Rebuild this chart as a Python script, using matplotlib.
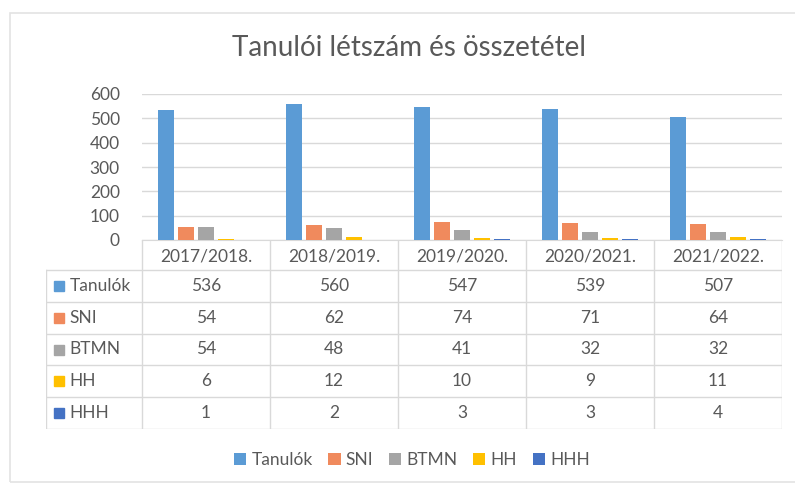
import matplotlib
matplotlib.use("Agg")
import matplotlib.pyplot as plt
from matplotlib.patches import Rectangle
import numpy as np

plt.rcParams['font.family'] = ['Lato', 'DejaVu Sans']

title = "Tanulói létszám és összetétel"
categories = ["2017/2018.", "2018/2019.", "2019/2020.", "2020/2021.", "2021/2022."]
series_names = ["Tanulók", "SNI", "BTMN", "HH", "HHH"]
tanulok = [536, 560, 547, 539, 507]
sni = [54, 62, 74, 71, 64]
btmn = [54, 48, 41, 32, 32]
hh = [6, 12, 10, 9, 11]
hhh = [1, 2, 3, 3, 4]
series_values = [tanulok, sni, btmn, hh, hhh]
colors = ["#5B9BD5", "#F08A5D", "#A5A5A5", "#FFC000", "#4472C4"]
yticks = [0, 100, 200, 300, 400, 500, 600]

W, H = 795, 484
fig = plt.figure(figsize=(W / 100, H / 100), dpi=100)
TXT = "#595959"
GRID = "#D9D9D9"

def fx(px):
    return px / W

def fy(py):
    return 1 - py / H

# outer chart frame
fig.patches.append(Rectangle((fx(10), fy(482)), fx(800) - fx(10), fy(13) - fy(482),
                             transform=fig.transFigure, fill=False, edgecolor="#E3E3E3",
                             linewidth=1.2, zorder=0))

fig.text(fx(409), fy(48), title, ha="center", va="center", fontsize=20, color=TXT)

# bar axes
x0, x1 = 142, 782
ax = fig.add_axes([fx(x0), fy(240), fx(x1) - fx(x0), fy(94) - fy(240)])
n = len(series_names)
x = np.arange(len(categories))
bw = 0.125
gap = 0.156
handles = []
for i, (name, vals, c) in enumerate(zip(series_names, series_values, colors)):
    b = ax.bar(x + (i - (n - 1) / 2) * gap, vals, width=bw, color=c, label=name, zorder=3)
    handles.append(b)
ax.set_xlim(-0.5, len(categories) - 0.5)
ax.set_ylim(0, 600)
ax.set_yticks(yticks)
ax.set_yticklabels([str(v) for v in yticks], fontsize=12.5, color=TXT)
ax.set_xticks([])
ax.tick_params(axis="y", length=0, pad=16)
ax.grid(axis="y", color=GRID, linewidth=1, zorder=0)
for s in ["top", "right", "left"]:
    ax.spines[s].set_visible(False)
ax.spines["bottom"].set_color(GRID)
ax.set_facecolor("none")

# data table axes
tax = fig.add_axes([fx(46), fy(429), fx(782) - fx(46), fy(240) - fy(429)])
lab_w = 0.75
tax.set_xlim(-0.5 - lab_w, len(categories) - 0.5)
tax.set_ylim(189, 0)
tax.axis("off")
header_h = 30
row_h = (189 - header_h) / n
lk = dict(color=GRID, linewidth=1)
# horizontal lines
for r in range(n + 1):
    yy = header_h + r * row_h
    tax.plot([-0.5 - lab_w, len(categories) - 0.5], [yy, yy], **lk)
# vertical lines
for k in range(len(categories) + 1):
    xx = k - 0.5
    tax.plot([xx, xx], [0, 189], **lk)
tax.plot([-0.5 - lab_w, -0.5 - lab_w], [header_h, 189], **lk)

for j, cat in enumerate(categories):
    tax.text(j, header_h / 2 + 1, cat, ha="center", va="center", fontsize=12.5, color=TXT)
for i, (name, vals, c) in enumerate(zip(series_names, series_values, colors)):
    yc = header_h + (i + 0.5) * row_h
    tax.plot([-0.5 - lab_w + 0.10], [yc], marker="s", markersize=6.5, color=c, linestyle="none")
    tax.text(-0.5 - lab_w + 0.185, yc, name, ha="left", va="center", fontsize=12.5, color=TXT)
    for j, v in enumerate(vals):
        tax.text(j, yc, str(v), ha="center", va="center", fontsize=12.5, color=TXT)

fig.legend(handles=handles, labels=series_names, loc="center", bbox_to_anchor=(fx(412), fy(460)),
           ncol=5, frameon=False, fontsize=12.5, handlelength=0.7, handleheight=0.7,
           handletextpad=0.3, columnspacing=0.9, labelcolor=TXT)

fig.savefig("out.png", dpi=100)
